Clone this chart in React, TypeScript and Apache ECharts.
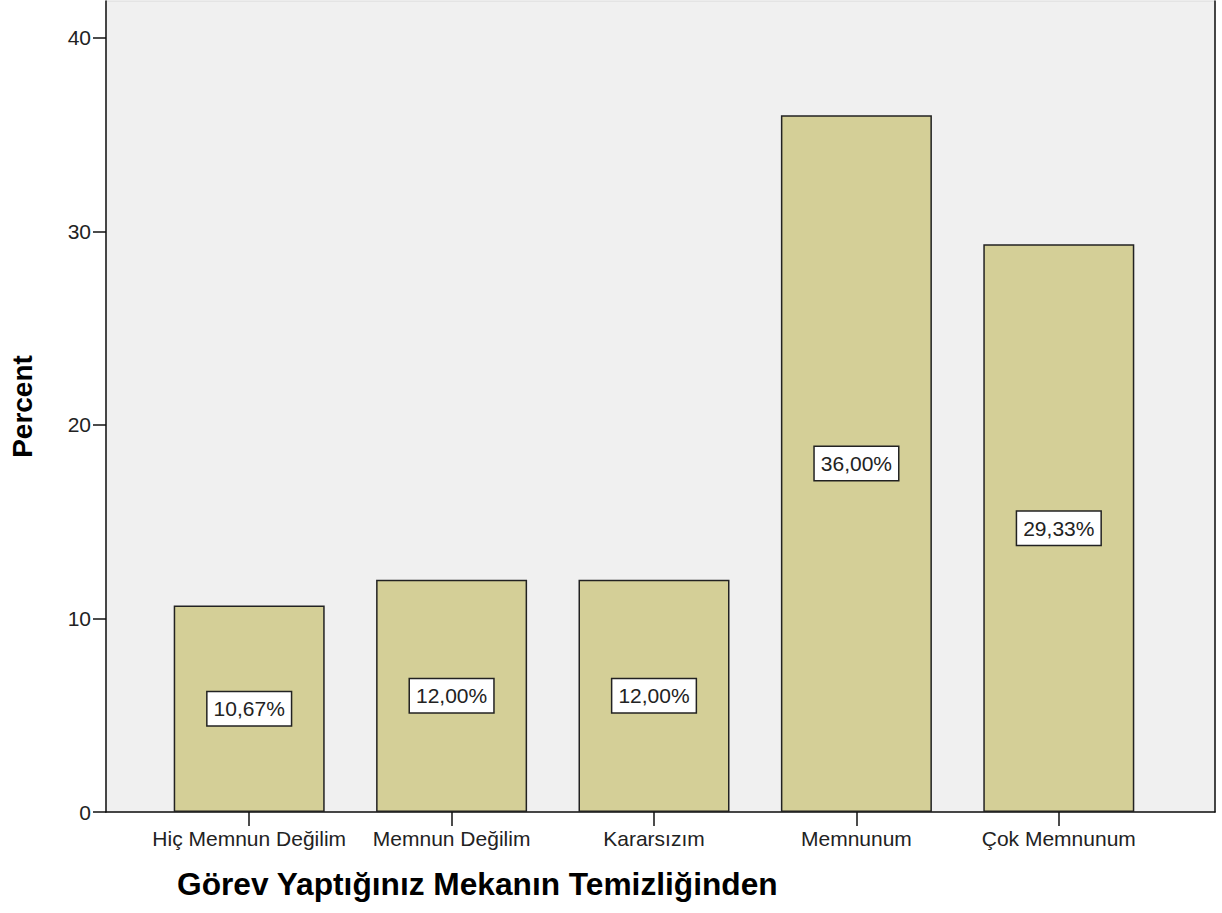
import React, { useEffect, useRef } from "react";
import * as echarts from "echarts";

const categories = ["Hiç Memnun Değilim", "Memnun Değilim", "Kararsızım", "Memnunum", "Çok Memnunum"];
const percents = [10.67, 12.0, 12.0, 36.0, 29.33];
const yTicks = [0, 10, 20, 30, 40];
const yAxisName = "Percent";
const xAxisTitle = "Görev Yaptığınız Mekanın Temizliğinden";

const FONT = "'Liberation Sans', Arial, sans-serif";

export default function App() {
  const ref = useRef<HTMLDivElement>(null);
  useEffect(() => {
    if (!ref.current) return;
    const chart = echarts.init(ref.current, null, { renderer: "svg" });
    const yMax = 41.9;
    chart.setOption({
      animation: false,
      backgroundColor: "#ffffff",
      grid: [
        {
          left: 92, right: 7, top: 1, bottom: 101,
          show: true, backgroundColor: "#f0f0f0", borderColor: "#d8d8d8", borderWidth: 1,
        },
        { left: 148, right: 62, top: 1, bottom: 101 },
      ],
      xAxis: [
        {
          gridIndex: 0, type: "value", min: 0, max: 1,
          axisLine: { show: true, onZero: false, lineStyle: { color: "#111", width: 1.5 } },
          axisTick: { show: false }, axisLabel: { show: false }, splitLine: { show: false },
        },
        {
          gridIndex: 1, type: "category", data: categories,
          axisLine: { show: false },
          axisTick: { show: true, alignWithLabel: true, length: 14, lineStyle: { color: "#111", width: 1.5 } },
          axisLabel: { interval: 0, fontFamily: FONT, fontSize: 21, color: "#222", margin: 16 },
          splitLine: { show: false },
        },
      ],
      yAxis: [
        {
          gridIndex: 0, type: "value", min: 0, max: yMax,
          name: yAxisName, nameLocation: "middle", nameGap: 70, nameRotate: 90,
          nameTextStyle: { fontFamily: FONT, fontSize: 28, fontWeight: "bold", color: "#000" },
          axisLine: { show: true, lineStyle: { color: "#111", width: 1.5 } },
          axisTick: { show: true, length: 13, customValues: yTicks, lineStyle: { color: "#111", width: 1.5 } },
          axisLabel: { customValues: yTicks, fontFamily: FONT, fontSize: 21, color: "#222", margin: 15 },
          splitLine: { show: false },
        },
        {
          gridIndex: 0, type: "value", min: 0, max: yMax, position: "right",
          axisLine: { show: true, lineStyle: { color: "#111", width: 1.5 } },
          axisTick: { show: false }, axisLabel: { show: false }, splitLine: { show: false },
        },
        {
          gridIndex: 1, type: "value", min: 0, max: yMax, show: false,
        },
      ],
      series: [
        {
          type: "bar",
          xAxisIndex: 1,
          yAxisIndex: 2,
          data: percents,
          barWidth: 151,
          itemStyle: { color: "#d4cf97", borderColor: "#222", borderWidth: 1.5 },
          label: {
            show: true,
            position: "inside",
            formatter: (p: any) => p.value.toFixed(2).replace(".", ",") + "%",
            fontFamily: FONT,
            fontSize: 21,
            color: "#222",
            backgroundColor: "#ffffff",
            borderColor: "#222",
            borderWidth: 1.5,
            padding: [6, 6, 6, 6],
          },
        },
      ],
      graphic: [
        {
          type: "text",
          x: 177,
          y: 885,
          scaleX: 1.022,
          style: {
            text: xAxisTitle,
            fontFamily: FONT,
            fontSize: 31,
            fontWeight: "bold",
            fill: "#000",
            textAlign: "left",
            textVerticalAlign: "middle",
          },
        },
      ],
    });
    return () => chart.dispose();
  }, []);
  return <div ref={ref} style={{ width: 1222, height: 913, position: "absolute", left: 0, top: 0 }} />;
}
